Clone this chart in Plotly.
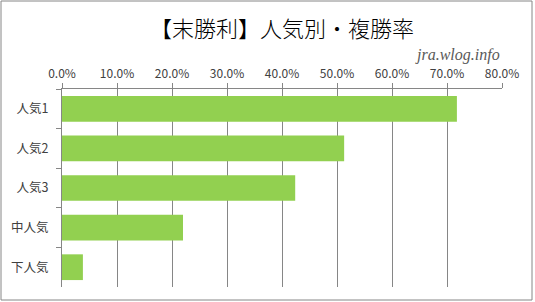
import plotly.graph_objects as go

categories = ["人気1", "人気2", "人気3", "中人気", "下人気"]
values = [0.718, 0.513, 0.424, 0.220, 0.038]
title_text = "【末勝利】人気別・複勝率"
watermark = "jra.wlog.info"

W, H = 535, 302
L, R, T, B = 62, 33, 89, 15
pw, ph = W - L - R, H - T - B

def px_x(px):
    return (px - L) / pw

def px_y(py):
    return (H - B - py) / ph

fig = go.Figure(go.Bar(
    x=values, y=categories, orientation="h",
    marker=dict(color="#92D050", line=dict(width=0)),
))

fig.update_layout(
    width=W, height=H,
    margin=dict(l=L, r=R, t=T, b=B, pad=0),
    paper_bgcolor="white", plot_bgcolor="white",
    showlegend=False, bargap=0.35,
    font=dict(family="Noto Sans CJK JP", size=12, color="#404040"),
    title=dict(text=title_text, x=0.5, xref="paper", xanchor="center",
               y=1 - 29 / H, yanchor="middle",
               font=dict(family="Noto Sans CJK JP", size=22, color="#000000", weight=300)),
)

fig.update_xaxes(
    side="top", range=[0, 0.8], dtick=0.1, tickformat=".1%",
    showgrid=True, gridcolor="#868686", gridwidth=1,
    showline=True, linecolor="#868686", linewidth=1,
    ticks="outside", ticklen=5, tickcolor="#868686",
    tickfont=dict(family="Noto Sans CJK JP", size=12, color="#404040"),
    zeroline=False, fixedrange=True,
)
fig.update_yaxes(
    autorange="reversed", tickson="boundaries",
    showline=True, linecolor="#868686", linewidth=1,
    ticks="outside", ticklen=5, tickcolor="#868686",
    showgrid=False, ticklabelstandoff=10,
    tickfont=dict(family="Noto Sans CJK JP", size=12.5, color="#404040"),
)

fig.add_annotation(
    text=watermark, xref="paper", yref="paper",
    x=px_x(502), y=px_y(55), xanchor="right", yanchor="middle",
    showarrow=False,
    font=dict(family="Liberation Serif", size=16, color="#595959", style="italic"),
)

fig.add_shape(
    type="rect", xref="paper", yref="paper",
    x0=px_x(1), x1=px_x(532), y0=px_y(300), y1=px_y(1),
    line=dict(color="#868686", width=1), fillcolor="rgba(0,0,0,0)", layer="below",
)

fig.write_html("out.html")
